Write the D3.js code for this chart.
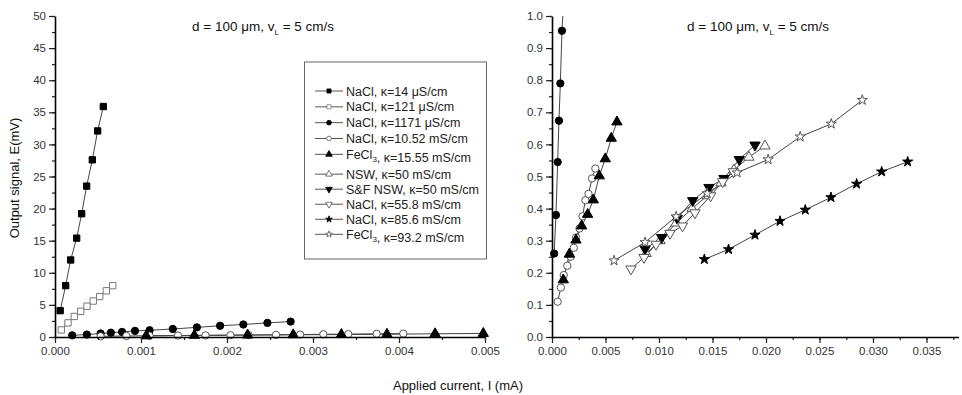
<!DOCTYPE html>
<html>
<head>
<meta charset="utf-8">
<script src="https://cdn.jsdelivr.net/npm/d3@7"></script>
<style>
body { margin: 0; background: #fff; }
svg { display: block; font-family: "Liberation Sans", Arial, sans-serif; }
</style>
</head>
<body>
<svg id="chart"></svg>
<script>
// Legend labels (<sub>..</sub> marks a subscript)
const seriesLabels = [
    "NaCl, κ=14 μS/cm",
    "NaCl, κ=121 μS/cm",
    "NaCl, κ=1171 μS/cm",
    "NaCl, κ=10.52 mS/cm",
    "FeCl<sub>3</sub>, κ=15.55 mS/cm",
    "NSW, κ=50 mS/cm",
    "S&F NSW, κ=50 mS/cm",
    "NaCl, κ=55.8 mS/cm",
    "NaCl, κ=85.6 mS/cm",
    "FeCl<sub>3</sub>, κ=93.2 mS/cm",
];

// Applied current I (mA) and output signal E (mV) per series
const iNaCl14 = [0.00006, 0.000124, 0.000182, 0.000252, 0.00031, 0.000368, 0.000434, 0.000496, 0.000562];
const eNaCl14 = [4.1, 8.0, 12.0, 15.4, 19.2, 23.5, 27.6, 32.1, 35.9];

const iNaCl121 = [0.000073, 0.000151, 0.000224, 0.000299, 0.000372, 0.000445, 0.00052, 0.000597, 0.000671];
const eNaCl121 = [1.1, 2.2, 3.2, 4.0, 4.8, 5.6, 6.3, 7.2, 8.0];

const iNaCl1171 = [0.0002, 0.00037, 0.00053, 0.00065, 0.00078, 0.00093, 0.0011, 0.00137, 0.00165, 0.00192, 0.00219, 0.00247, 0.00274];
const eNaCl1171 = [0.26, 0.38, 0.545, 0.674, 0.79, 0.954, 1.05, 1.25, 1.5, 1.75, 1.95, 2.2, 2.4];

const iNaCl1052 = [0.00053, 0.00083, 0.0011, 0.00143, 0.00175, 0.00204, 0.00225, 0.00257, 0.00285, 0.00312, 0.00341, 0.00374, 0.00405];
const eNaCl1052 = [0.11, 0.154, 0.193, 0.222, 0.25, 0.278, 0.31, 0.338, 0.376, 0.426, 0.446, 0.494, 0.525];

const iFeCl1555 = [0.00106, 0.00162, 0.00224, 0.00277, 0.00333, 0.00386, 0.00442, 0.00498, 0.00554, 0.00607];
const eFeCl1555 = [0.178, 0.258, 0.302, 0.346, 0.382, 0.427, 0.502, 0.555, 0.619, 0.67];

const iNSW = [0.0088, 0.0101, 0.0116, 0.0131, 0.0145, 0.0158, 0.017, 0.0184, 0.0199];
const eNSW = [0.26, 0.30, 0.355, 0.40, 0.44, 0.48, 0.52, 0.56, 0.595];

const iSFNSW = [0.0087, 0.01025, 0.0117, 0.01315, 0.01467, 0.01607, 0.0175, 0.01897];
const eSFNSW = [0.274, 0.31, 0.37, 0.425, 0.466, 0.494, 0.553, 0.598];

const iNaCl558 = [0.00738, 0.0086, 0.00972, 0.01103, 0.0122, 0.01336, 0.01483, 0.01595, 0.01695];
const eNaCl558 = [0.212, 0.248, 0.289, 0.323, 0.346, 0.387, 0.44, 0.484, 0.515];

const iNaCl856 = [0.01424, 0.0165, 0.01897, 0.02131, 0.02367, 0.02607, 0.02847, 0.03081, 0.03324];
const eNaCl856 = [0.242, 0.273, 0.318, 0.361, 0.396, 0.435, 0.477, 0.515, 0.546];

const iFeCl932 = [0.0058, 0.0087, 0.0116, 0.0145, 0.0173, 0.0202, 0.0232, 0.0261, 0.029];
const eFeCl932 = [0.238, 0.295, 0.375, 0.447, 0.512, 0.553, 0.624, 0.664, 0.738];

const currents = [iNaCl14, iNaCl121, iNaCl1171, iNaCl1052, iFeCl1555, iNSW, iSFNSW, iNaCl558, iNaCl856, iFeCl932];
const signals = [eNaCl14, eNaCl121, eNaCl1171, eNaCl1052, eFeCl1555, eNSW, eSFNSW, eNaCl558, eNaCl856, eFeCl932];

const titleText = "d = 100 μm, v";

// Marker style for each series (same order as the labels)
const markerStyles = [
    { type: d3.symbolSquare, fill: "#000", stroke: "#000", rot: 0 },
    { type: d3.symbolSquare, fill: "#fff", stroke: "#777", rot: 0 },
    { type: d3.symbolCircle, fill: "#000", stroke: "#000", rot: 0 },
    { type: d3.symbolCircle, fill: "#fff", stroke: "#555", rot: 0 },
    { type: d3.symbolTriangle, fill: "#000", stroke: "#000", rot: 0 },
    { type: d3.symbolTriangle, fill: "#fff", stroke: "#555", rot: 0 },
    { type: d3.symbolTriangle, fill: "#000", stroke: "#000", rot: 180 },
    { type: d3.symbolTriangle, fill: "#fff", stroke: "#555", rot: 180 },
    { type: d3.symbolStar, fill: "#000", stroke: "#000", rot: 0 },
    { type: d3.symbolStar, fill: "#fff", stroke: "#555", rot: 0 },
];
const markerSize = { square: 40, circle: 42, triangle: 46, star: 32 };

const width = 962, height = 395;

const series = seriesLabels.map((label, k) => ({
    label,
    style: markerStyles[k],
    points: currents[k].map((c, j) => ({ I: c, E: signals[k][j] })),
}));

const svg = d3.select("#chart").attr("width", width).attr("height", height);

function symbolSize(type, scale) {
    const base = type === d3.symbolStar ? markerSize.star
        : type === d3.symbolSquare ? markerSize.square
        : type === d3.symbolCircle ? markerSize.circle : markerSize.triangle;
    return base * scale;
}

function drawPanel(cfg, id) {
    const x = d3.scaleLinear().domain(cfg.xDomain).range([cfg.left, cfg.right]);
    const y = d3.scaleLinear().domain(cfg.yDomain).range([cfg.bottom, cfg.top]);

    const g = svg.append("g");

    g.append("clipPath")
        .attr("id", "clip" + id)
        .append("rect")
        .attr("x", cfg.left)
        .attr("y", cfg.top)
        .attr("width", cfg.right - cfg.left)
        .attr("height", cfg.bottom - cfg.top);

    const line = d3.line().x(d => x(d.I)).y(d => y(d.E));

    const plot = g.append("g");

    // Connecting lines
    plot.selectAll(".ln")
        .data(series)
        .enter()
        .append("path")
        .attr("clip-path", `url(#clip${id})`)
        .attr("d", d => line(d.points))
        .attr("fill", "none")
        .attr("stroke", "#444")
        .attr("stroke-width", 1);

    // Markers, only those inside the axes
    const inside = p => p.I >= cfg.xDomain[0] && p.I <= cfg.xDomain[1] && p.E >= cfg.yDomain[0] && p.E <= cfg.yDomain[1];
    series.forEach(s => {
        const sym = d3.symbol().type(s.style.type).size(symbolSize(s.style.type, 1));
        plot.selectAll(null)
            .data(s.points.filter(inside))
            .enter()
            .append("path")
            .attr("d", sym)
            .attr("transform", d => `translate(${x(d.I)},${y(d.E)}) rotate(${s.style.rot})`)
            .attr("fill", s.style.fill)
            .attr("stroke", s.style.stroke)
            .attr("stroke-width", 1);
    });

    // Axes
    const xMajor = d3.range(cfg.xTicks[0], cfg.xTicks[1] + 1e-9, cfg.xTicks[2]);
    const xMinor = d3.range(cfg.xTicks[0], cfg.xDomain[1] + 1e-9, cfg.xTicks[2] / 2);
    const yMajor = d3.range(cfg.yTicks[0], cfg.yTicks[1] + 1e-9, cfg.yTicks[2]);
    const yMinor = d3.range(cfg.yTicks[0], cfg.yDomain[1] + 1e-9, cfg.yTicks[2] / 2);

    const xAxisMinor = g.append("g")
        .attr("transform", `translate(0,${cfg.bottom})`)
        .call(d3.axisBottom(x).tickValues(xMinor).tickSize(3).tickFormat("").tickSizeOuter(0));
    xAxisMinor.select(".domain").remove();

    const xAxis = g.append("g")
        .attr("transform", `translate(0,${cfg.bottom})`)
        .call(d3.axisBottom(x).tickValues(xMajor).tickSize(6).tickPadding(4).tickFormat(d3.format(cfg.xFormat)).tickSizeOuter(0));

    const yAxisMinor = g.append("g")
        .attr("transform", `translate(${cfg.left},0)`)
        .call(d3.axisLeft(y).tickValues(yMinor).tickSize(3).tickFormat("").tickSizeOuter(0));
    yAxisMinor.select(".domain").remove();

    const yAxis = g.append("g")
        .attr("transform", `translate(${cfg.left},0)`)
        .call(d3.axisLeft(y).tickValues(yMajor).tickSize(6).tickPadding(3).tickFormat(d3.format(cfg.yFormat)).tickSizeOuter(0));

    [xAxis, yAxis].forEach(a => {
        a.select(".domain").attr("stroke-width", 1.6);
        a.selectAll("text").attr("font-size", 11.5).attr("fill", "#333").attr("font-family", "Liberation Sans, Arial, sans-serif");
    });
    g.selectAll(".tick line").attr("stroke", "#222").attr("stroke-width", 1.2);

    // Title
    const t = g.append("text")
        .attr("x", cfg.titleX)
        .attr("y", 31)
        .attr("font-size", 13.5)
        .attr("fill", "#111");
    t.append("tspan").text(titleText);
    t.append("tspan").attr("dy", 4).attr("font-size", 8).text("L");
    t.append("tspan").attr("dy", -4).text(" = 5 cm/s");
}

drawPanel({
    left: 55, right: 485, top: 16, bottom: 337,
    xDomain: [0, 0.005], yDomain: [0, 50],
    xTicks: [0, 0.005, 0.001], yTicks: [0, 50, 5],
    xFormat: ".3f", yFormat: "d",
    titleX: 192,
}, 0);

drawPanel({
    left: 552, right: 958.6, top: 16, bottom: 337,
    xDomain: [0, 0.038], yDomain: [0, 1],
    xTicks: [0, 0.035, 0.005], yTicks: [0, 1, 0.1],
    xFormat: ".3f", yFormat: ".1f",
    titleX: 687,
}, 1);

// Axis titles
svg.append("text")
    .attr("transform", "translate(19,178) rotate(-90)")
    .attr("text-anchor", "middle")
    .attr("font-size", 13)
    .attr("fill", "#111")
    .text("Output signal, E(mV)");

svg.append("text")
    .attr("x", 458)
    .attr("y", 390)
    .attr("text-anchor", "middle")
    .attr("font-size", 13)
    .attr("fill", "#111")
    .text("Applied current, I (mA)");

// Legend
const legend = svg.append("g");
legend.append("rect")
    .attr("x", 304.5)
    .attr("y", 62)
    .attr("width", 182)
    .attr("height", 197)
    .attr("fill", "#fff")
    .attr("stroke", "#666")
    .attr("stroke-width", 1);

const legendY = d3.scalePoint().domain(d3.range(series.length)).range([91, 233.5]);

const legendRows = legend.selectAll(".row")
    .data(series)
    .enter()
    .append("g")
    .attr("transform", (d, i) => `translate(0,${legendY(i) + (i >= 5 ? 4 : 0) - (i >= 5 ? (i - 5) * 0.8 : 0)})`);

legendRows.append("line")
    .attr("x1", 315)
    .attr("x2", 343)
    .attr("stroke", "#555")
    .attr("stroke-width", 1);

legendRows.append("path")
    .attr("d", d => d3.symbol().type(d.style.type).size(symbolSize(d.style.type, 0.42))())
    .attr("transform", d => `translate(329,0) rotate(${d.style.rot})`)
    .attr("fill", d => d.style.fill)
    .attr("stroke", d => d.style.stroke)
    .attr("stroke-width", 0.8);

legendRows.each(function (d) {
    const txt = d3.select(this).append("text")
        .attr("x", 346)
        .attr("y", 4.5)
        .attr("font-size", 12.5)
        .attr("fill", "#222");
    d.label.split(/(<sub>.*?<\/sub>)/).forEach(part => {
        if (part.startsWith("<sub>")) {
            txt.append("tspan").attr("dy", 3).attr("font-size", 8).text(part.replace(/<\/?sub>/g, ""));
            txt.append("tspan").attr("dy", -3).text("");
        } else if (part) {
            txt.append("tspan").text(part);
        }
    });
});
</script>
</body>
</html>
